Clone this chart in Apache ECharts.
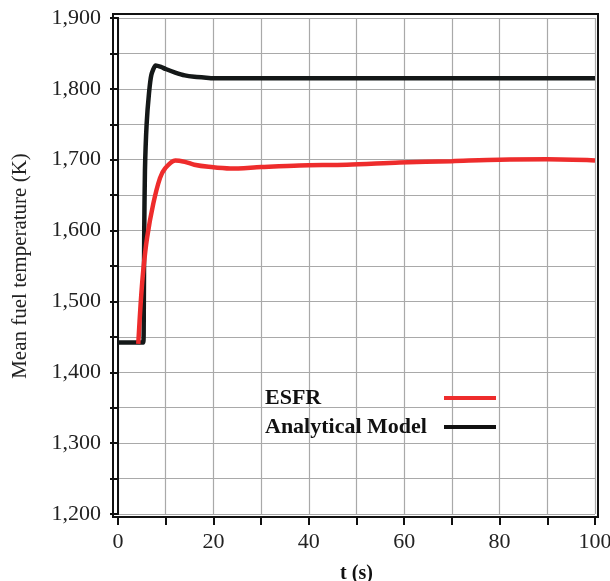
<!DOCTYPE html>
<html>
<head>
<meta charset="utf-8">
<script src="https://cdn.jsdelivr.net/npm/echarts@6/dist/echarts.min.js"></script>
<style>
  html, body { margin: 0; padding: 0; background: #fff; }
  #chart { width: 610px; height: 581px; }
</style>
</head>
<body>
<div id="chart"></div>
<script>
// values
const modelT = [0, 5.3, 5.4, 5.5, 5.65, 6.0, 6.5, 7.0, 7.9, 9, 10, 12, 14, 16, 18, 20, 25, 100];
const modelV = [1442, 1442, 1480, 1600, 1685, 1750, 1794, 1820, 1833, 1831, 1828, 1823, 1819, 1817, 1816, 1815, 1815, 1815];

const esfrT = [4.25, 4.75, 5.3, 6.1, 7.4, 8.8, 9.9, 12, 14, 16, 19, 23.5, 30, 38, 48, 59, 70, 80, 90, 100];
const esfrV = [1440, 1497, 1544, 1590, 1638, 1674, 1688, 1699, 1697, 1693, 1690, 1687.5, 1689.7, 1692, 1693, 1696, 1698, 1700, 1700.5, 1699];

const seriesNames = ['ESFR', 'Analytical Model'];
const xTitle = 't (s)';
const yTitle = 'Mean fuel temperature (K)';

const zip = (a, b) => a.map((t, i) => [t, b[i]]);
const FONT = '"Liberation Serif", "DejaVu Serif", serif';
const G = { left: 118, right: 15, top: 18, bottom: 67, outerBoundsMode: 'none', containLabel: false };

const chart = echarts.init(document.getElementById('chart'));

const axisBase = {
    axisLine: { lineStyle: { color: '#111', width: 2 } },
    axisTick: { inside: false, length: 8, lineStyle: { color: '#111', width: 2 } },
    splitLine: { lineStyle: { color: '#a9a9a9', width: 1.2 } }
};

chart.setOption({
    backgroundColor: '#fff',
    animation: false,
    grid: G,
    legend: {
        data: seriesNames,
        orient: 'vertical',
        left: 260, top: 382,
        align: 'right',
        itemGap: 7,
        itemWidth: 52, itemHeight: 4,
        icon: 'rect',
        formatter: name => '{t|' + name + '}',
        textStyle: {
            rich: { t: { fontFamily: FONT, fontSize: 22, fontWeight: 'bold', color: '#111', width: 174, align: 'left' } }
        }
    },
    xAxis: [{
        type: 'value', min: 0, max: 100, interval: 10, offset: 3,
        name: xTitle, nameLocation: 'middle', nameGap: 47,
        nameTextStyle: { fontFamily: FONT, fontSize: 20, fontWeight: 'bold', color: '#111' },
        ...axisBase,
        axisLabel: { fontFamily: FONT, fontSize: 22, color: '#222', margin: 14, formatter: v => v % 20 === 0 ? String(v) : '' }
    }, {
        type: 'value', position: 'top', min: 0, max: 100, offset: 4,
        axisLine: { lineStyle: { color: '#111', width: 2 } },
        axisTick: { show: false }, axisLabel: { show: false }, splitLine: { show: false }
    }],
    yAxis: [{
        type: 'value', min: 1200, max: 1900, interval: 50, offset: 5,
        name: yTitle, nameLocation: 'middle', nameGap: 82,
        nameTextStyle: { fontFamily: FONT, fontSize: 21, color: '#222' },
        ...axisBase,
        axisLabel: { fontFamily: FONT, fontSize: 22, color: '#222', margin: 12,
            formatter: v => v % 100 === 0 ? v.toLocaleString('en-US') : '' }
    }, {
        type: 'value', position: 'right', min: 1200, max: 1900, offset: 3,
        axisLine: { show: true, lineStyle: { color: '#111', width: 2 } },
        axisTick: { show: false }, axisLabel: { show: false }, splitLine: { show: false }
    }],
    graphic: [{
        type: 'rect', silent: true, z: 10,
        shape: { x: G.left - 5, y: G.top - 4, width: 610 - G.left - G.right + 8, height: 581 - G.top - G.bottom + 7 },
        style: { fill: 'none', stroke: '#111', lineWidth: 2 }
    }],
    series: [{
        name: 'Analytical Model', type: 'line', data: zip(modelT, modelV),
        symbol: 'none', smooth: 0.2,
        lineStyle: { color: '#141818', width: 4.5 }, itemStyle: { color: '#111' }
    }, {
        name: 'ESFR', type: 'line', data: zip(esfrT, esfrV),
        symbol: 'none', smooth: 0.3,
        lineStyle: { color: '#ee2c2c', width: 4.5 }, itemStyle: { color: '#ee2c2c' }
    }]
});
</script>
</body>
</html>
